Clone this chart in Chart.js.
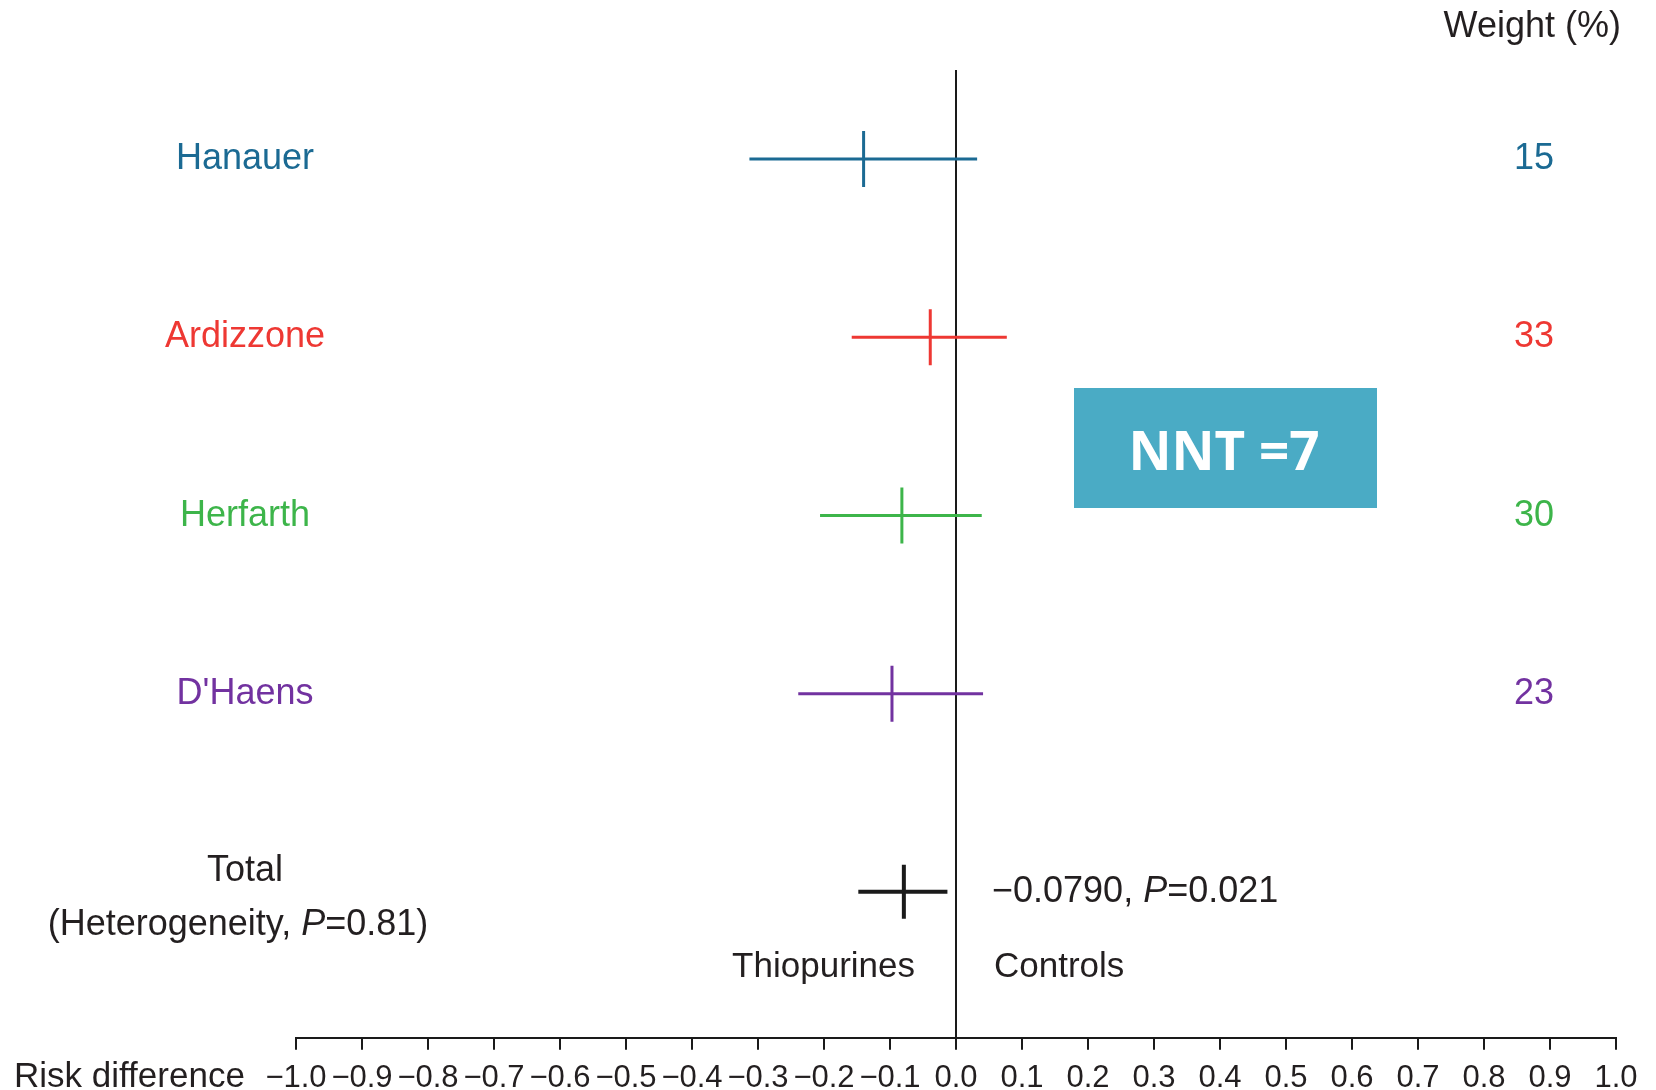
<!DOCTYPE html>
<html>
<head>
<meta charset="utf-8">
<script src="https://cdn.jsdelivr.net/npm/chart.js@4.4.1/dist/chart.umd.min.js"></script>
<style>
  html, body { margin: 0; padding: 0; background: #fff; }
  #wrap { width: 1656px; height: 1090px; position: relative; }
</style>
</head>
<body>
<div id="wrap"><canvas id="forest" width="1656" height="1090"></canvas></div>
<script>
// Forest plot data (risk difference, thiopurines vs controls)
const studies = ['Hanauer', 'Ardizzone', 'Herfarth', "D'Haens"];
const estimates = [-0.140, -0.039, -0.082, -0.097];
const lowerCI = [-0.313, -0.158, -0.206, -0.239];
const upperCI = [0.032, 0.077, 0.039, 0.041];
const weights = [15, 33, 30, 23];
const studyColors = ['#1b6a93', '#ee3833', '#3db54a', '#7232a0'];

const total = { est: -0.079, lo: -0.148, hi: -0.013 };
const xTicks = [-1.0, -0.9, -0.8, -0.7, -0.6, -0.5, -0.4, -0.3, -0.2, -0.1, 0.0,
                0.1, 0.2, 0.3, 0.4, 0.5, 0.6, 0.7, 0.8, 0.9, 1.0];

const TEXT = '#231f20';
const FONT = '"Liberation Sans", Arial, sans-serif';

// row positions on the y scale (studies top to bottom, total a bit lower)
const rowY = studies.map((s, i) => studies.length - i);
const totalY = -0.11;
const yMin = -0.93, yMax = 4.50;

const datasets = [];
studies.forEach((name, i) => {
    datasets.push({
        label: name + ' CI',
        data: [{ x: lowerCI[i], y: rowY[i] }, { x: upperCI[i], y: rowY[i] }],
        showLine: true,
        borderColor: studyColors[i],
        borderWidth: 3,
        pointRadius: 0
    });
    datasets.push({
        label: name,
        data: [{ x: estimates[i], y: rowY[i] }],
        pointStyle: 'line',
        rotation: 90,
        radius: 28,
        borderColor: studyColors[i],
        borderWidth: 3
    });
});
datasets.push({
    label: 'Total CI',
    data: [{ x: total.lo, y: totalY }, { x: total.hi, y: totalY }],
    showLine: true,
    borderColor: '#1a1a1a',
    borderWidth: 4,
    pointRadius: 0
});
datasets.push({
    label: 'Total',
    data: [{ x: total.est, y: totalY }],
    pointStyle: 'line',
    rotation: 90,
    radius: 27,
    borderColor: '#1a1a1a',
    borderWidth: 4
});

// draw a line of text made of plain / italic pieces
function drawRuns(ctx, runs, x, y, align, size) {
    let widths = runs.map(r => {
        ctx.font = (r.italic ? 'italic ' : '') + size + 'px ' + FONT;
        return ctx.measureText(r.text).width;
    });
    let totalW = widths.reduce((a, b) => a + b, 0);
    let cx = align === 'center' ? x - totalW / 2 : (align === 'right' ? x - totalW : x);
    ctx.textAlign = 'left';
    runs.forEach((r, i) => {
        ctx.font = (r.italic ? 'italic ' : '') + size + 'px ' + FONT;
        ctx.fillText(r.text, cx, y);
        cx += widths[i];
    });
}

const annotations = {
    id: 'annotations',
    afterDraw(chart) {
        const ctx = chart.ctx;
        const yScale = chart.scales.y;
        ctx.save();
        ctx.textBaseline = 'middle';

        // study names and weights
        studies.forEach((name, i) => {
            const py = yScale.getPixelForValue(rowY[i]);
            ctx.fillStyle = studyColors[i];
            ctx.font = '36px ' + FONT;
            ctx.textAlign = 'center';
            ctx.fillText(name, 245, py);
            ctx.fillText(String(weights[i]), 1534, py);
        });

        ctx.fillStyle = TEXT;
        ctx.font = '36px ' + FONT;
        ctx.textAlign = 'right';
        ctx.fillText('Weight (%)', 1621, 27);

        // total row texts
        ctx.textBaseline = 'alphabetic';
        ctx.textAlign = 'center';
        ctx.fillText('Total', 245, 881);
        drawRuns(ctx, [{ text: '(Heterogeneity, ' }, { text: 'P', italic: true }, { text: '=0.81)' }],
            238, 935, 'center', 36);
        drawRuns(ctx, [{ text: '\u22120.0790, ' }, { text: 'P', italic: true }, { text: '=0.021' }],
            992, 902, 'left', 36);
        ctx.font = '35px ' + FONT;
        ctx.textAlign = 'right';
        ctx.fillText('Thiopurines', 915, 977);
        ctx.textAlign = 'left';
        ctx.fillText('Controls', 994, 977);

        // axis title
        ctx.font = '35px ' + FONT;
        ctx.textBaseline = 'middle';
        ctx.textAlign = 'left';
        ctx.fillText('Risk difference', 14, 1077);

        // NNT box
        ctx.fillStyle = '#4aabc5';
        ctx.fillRect(1074, 388, 303, 120);
        ctx.fillStyle = '#ffffff';
        ctx.font = 'bold 53px "Open Sans", sans-serif';
        ctx.textAlign = 'center';
        ctx.fillText('NNT =7', 1224, 455);
        ctx.restore();
    }
};

new Chart(document.getElementById('forest'), {
    type: 'scatter',
    data: { datasets: datasets },
    options: {
        responsive: false,
        animation: false,
        layout: { padding: { left: 296, right: 40, top: 70, bottom: -17 } },
        plugins: { legend: { display: false }, tooltip: { enabled: false } },
        scales: {
            x: {
                type: 'linear',
                min: -1,
                max: 1,
                afterBuildTicks: axis => { axis.ticks = xTicks.map(v => ({ value: v })); },
                border: { display: true, color: '#1a1a1a', width: 2 },
                grid: {
                    drawOnChartArea: true,
                    drawTicks: true,
                    tickLength: 12,
                    lineWidth: 2,
                    tickColor: '#1a1a1a',
                    color: c => (c.tick && c.tick.value === 0) ? '#1a1a1a' : 'rgba(0,0,0,0)'
                },
                ticks: {
                    autoSkip: false,
                    maxRotation: 0,
                    padding: 10,
                    color: TEXT,
                    font: { family: FONT, size: 31 },
                    callback: v => (v < 0 ? '\u2212' + Math.abs(v).toFixed(1) : v.toFixed(1))
                }
            },
            y: {
                type: 'linear',
                display: false,
                min: yMin,
                max: yMax
            }
        }
    },
    plugins: [annotations]
});
</script>
</body>
</html>
